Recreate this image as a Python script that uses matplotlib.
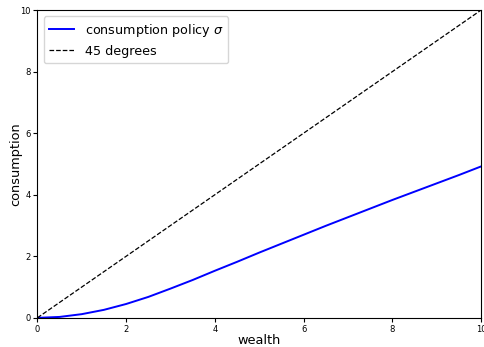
import matplotlib
matplotlib.use("Agg")
import matplotlib.pyplot as plt

# wealth grid and optimal consumption policy
wealth = [0.0, 0.5, 1.0, 1.5, 2.0, 2.5, 3.0, 3.5, 4.0, 4.5, 5.0,
          5.5, 6.0, 6.5, 7.0, 7.5, 8.0, 8.5, 9.0, 9.5, 10.0]
consumption = [0.0, 0.03, 0.12, 0.26, 0.45, 0.68, 0.95, 1.23, 1.53, 1.82, 2.12,
               2.41, 2.70, 2.99, 3.27, 3.55, 3.83, 4.10, 4.37, 4.64, 4.92]
diag = [0, 10]

fig = plt.figure(figsize=(4.85, 3.47), dpi=100)
ax = fig.add_axes([0.077, 0.084, 0.915, 0.887])

ax.plot(wealth, consumption, color='blue', lw=1.4, label=r'consumption policy $\sigma$')
ax.plot(diag, diag, 'k--', lw=0.9, label='45 degrees')

ax.set_xlim(0, 10)
ax.set_ylim(0, 10)
ax.set_xticks([0, 2, 4, 6, 8, 10])
ax.set_yticks([0, 2, 4, 6, 8, 10])
ax.tick_params(labelsize=6, length=3, width=0.8, pad=2)
ax.set_xlabel('wealth', fontsize=9.3, labelpad=0)
ax.set_ylabel('consumption', fontsize=9.3, labelpad=-2)
ax.legend(loc='upper left', fontsize=9.2)

fig.savefig('out.png', dpi=100)
